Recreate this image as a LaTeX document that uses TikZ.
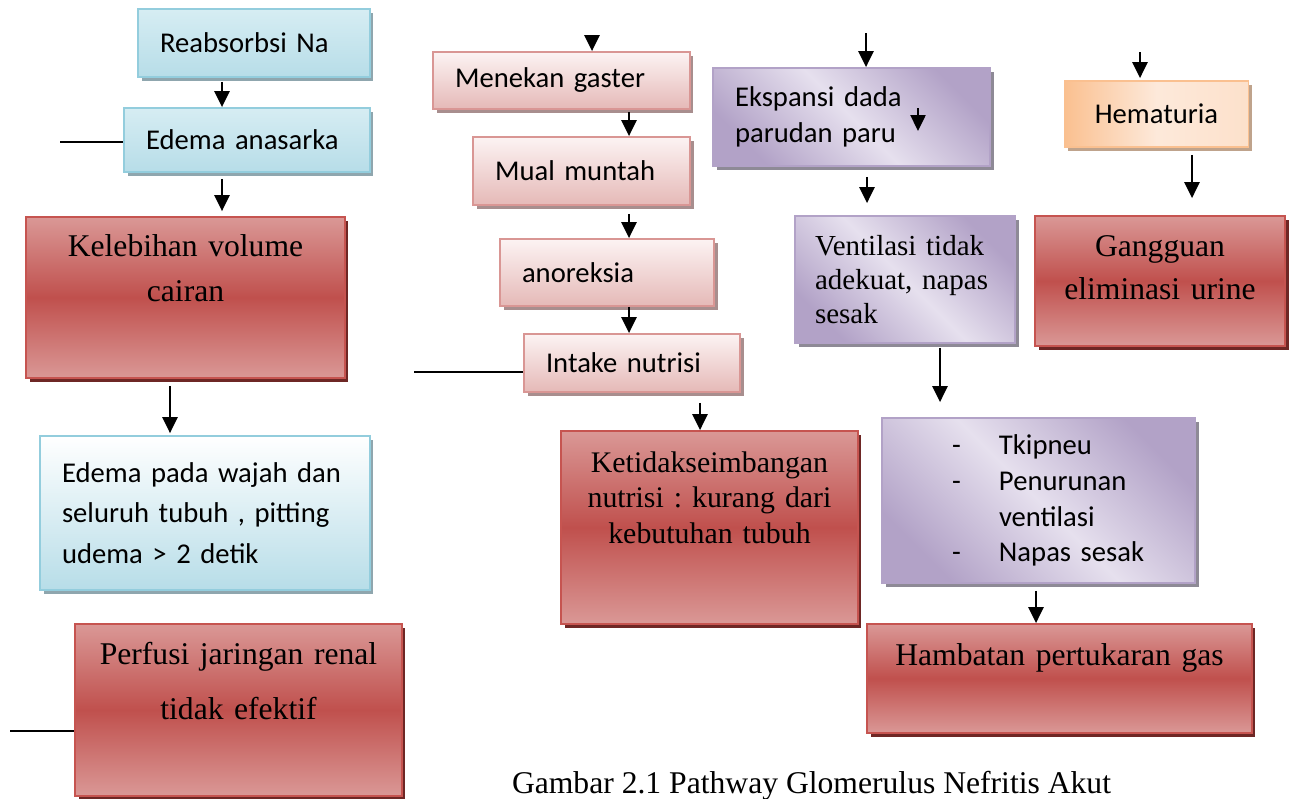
\documentclass[tikz,border=0pt]{standalone}
\usepackage{fontspec}
\setmainfont{Liberation Serif}
\newfontfamily\calibri{Carlito}
\usetikzlibrary{arrows.meta,shadows}
\frenchspacing

\definecolor{redline}{HTML}{C65450}
\definecolor{redmid}{HTML}{C0504D}
\definecolor{redlight}{HTML}{DA9896}
\definecolor{redshadow}{HTML}{6E2725}
\definecolor{blueline}{HTML}{93CDDD}
\definecolor{bluetop}{HTML}{D6EDF3}
\definecolor{bluebot}{HTML}{B7DDE8}
\definecolor{blueshadow}{HTML}{8FA6AE}
\definecolor{pinkline}{HTML}{D99694}
\definecolor{pinktop}{HTML}{FCF3F3}
\definecolor{pinkbot}{HTML}{E5B9B7}
\definecolor{pinkshadow}{HTML}{A88E8E}
\definecolor{purpdark}{HTML}{B2A2C7}
\definecolor{purplight}{HTML}{E6E0EE}
\definecolor{purpshadow}{HTML}{8E8A96}
\definecolor{orangedark}{HTML}{FAC090}
\definecolor{orangelight}{HTML}{FDE9DA}
\definecolor{orangeshadow}{HTML}{BFA38C}

\begin{document}
\begin{tikzpicture}[x=0.02cm, y=-0.02cm, >={Triangle[length=0.32cm, width=0.3cm]},
    arr/.style={->, line width=1.4pt},
    lin/.style={line width=1.1pt},
    sans/.style={font=\calibri\fontsize{16.3pt}{20.4pt}\selectfont},
    serif/.style={font=\fontsize{18pt}{26pt}\selectfont},
    box/.style={line width=1pt, inner xsep=0.44cm},
    redbox/.style={box, inner xsep=0.2cm, draw=redline, top color=redlight, bottom color=redlight, middle color=redmid,
        align=center, drop shadow={shadow xshift=2pt, shadow yshift=-2.5pt, opacity=1, fill=redshadow}},
    bluebox/.style={box, draw=blueline, top color=bluetop, bottom color=bluebot, align=left,
        drop shadow={shadow xshift=2pt, shadow yshift=-2.5pt, opacity=1, fill=blueshadow}},
    pinkbox/.style={box, draw=pinkline, top color=pinktop, bottom color=pinkbot, align=left,
        drop shadow={shadow xshift=2pt, shadow yshift=-2.5pt, opacity=1, fill=pinkshadow}},
    purpbox/.style={box, draw=purpdark, top color=purpdark, bottom color=purpdark, middle color=purplight,
        shading angle=-45, align=left,
        drop shadow={shadow xshift=2pt, shadow yshift=-2.5pt, opacity=1, fill=purpshadow}},
    orangebox/.style={box, draw=orangedark, left color=orangedark, right color=orangelight!80!orangedark,
        middle color=orangelight, align=center,
        drop shadow={shadow xshift=2pt, shadow yshift=-2.5pt, opacity=1, fill=orangeshadow}}]
    \useasboundingbox (0,0) rectangle (1294,798);

    %%%%%%%%%% left column %%%%%%%%%%
    \node [bluebox, sans, text width=3.76cm, minimum width=4.64cm, minimum height=1.36cm] (reab) at (254,43) {Reabsorbsi Na};
    \node [bluebox, sans, text width=4.04cm, minimum width=4.92cm, minimum height=1.28cm] (anasarka) at (247,140) {Edema anasarka};
    \node [redbox, serif, text width=5.88cm, minimum width=6.38cm, minimum height=3.22cm] (volume) at (185.5,297.5) {Kelebihan volume\\cairan\\[0.26cm]\mbox{}};
    \node [bluebox, top color=white, sans, font=\calibri\fontsize{16.3pt}{23.2pt}\selectfont, text width=5.72cm,
        minimum width=6.6cm, minimum height=3.08cm] (wajah) at (205,513) {Edema pada wajah dan\\seluruh tubuh , pitting\\udema > 2 detik};
    \node [redbox, serif, font=\fontsize{18pt}{31pt}\selectfont, text width=6.04cm, minimum width=6.54cm, minimum height=3.44cm] (perfusi) at (238.5,710) {Perfusi jaringan renal\\tidak efektif\\[0.08cm]\mbox{}};

    \draw [arr, shorten <=0.08cm] (reab.south -| 222,0) -- (anasarka.north -| 222,0);
    \draw [arr, shorten <=0.12cm, shorten >=0.1cm] (anasarka.south -| 222,0) -- (volume.north -| 222,0);
    \draw [arr, shorten <=0.14cm, shorten >=0.04cm] (volume.south -| 170,0) -- (wajah.north -| 170,0);
    \coordinate (l1) at (60,142);
    \draw [lin] (l1) -- (anasarka.west |- l1);
    \coordinate (l3) at (10,731);
    \draw [lin] (l3) -- (perfusi.west |- l3);

    %%%%%%%%%% middle column %%%%%%%%%%
    \node [pinkbox, sans, text width=4.26cm, minimum width=5.14cm, minimum height=1.14cm] (menekan) at (561.5,80.5) {Menekan gaster};
    \node [pinkbox, sans, text width=3.46cm, minimum width=4.34cm, minimum height=1.36cm] (mual) at (581.5,171) {Mual muntah};
    \node [pinkbox, sans, text width=3.4cm, minimum width=4.28cm, minimum height=1.34cm] (anoreksia) at (607,272.5) {anoreksia};
    \node [pinkbox, sans, text width=3.44cm, minimum width=4.32cm, minimum height=1.16cm] (intake) at (632,363) {Intake nutrisi};
    \node [redbox, serif, font=\fontsize{17pt}{20.4pt}\selectfont, text width=5.44cm, minimum width=5.94cm, minimum height=3.86cm] (nutrisi) at (709.5,527.5) {Ketidakseimbangan\\nutrisi : kurang dari\\kebutuhan tubuh\\[0.48cm]\mbox{}};

    \coordinate (t1) at (592,35);
    \draw [arr] (t1) -- (menekan.north -| t1);
    \foreach \a/\b/\s in {menekan/mual/0.04, mual/anoreksia/0.16, anoreksia/intake/0} {
        \draw [arr, shorten <=\s cm] (\a.south -| 629,0) -- (\b.north -| 629,0);
    }
    \draw [arr, shorten <=0.2cm] (intake.south -| 700,0) -- (nutrisi.north -| 700,0);
    \coordinate (l2) at (414,372);
    \draw [lin] (l2) -- (intake.west |- l2);

    %%%%%%%%%% right column %%%%%%%%%%
    \node [purpbox, sans, text width=4.66cm, minimum width=5.54cm, minimum height=1.96cm] (ekspansi) at (851.5,117) {Ekspansi dada\\parudan paru};
    \node [purpbox, serif, font=\fontsize{16.5pt}{19.3pt}\selectfont, inner xsep=0.4cm, text width=3.6cm, minimum width=4.4cm, minimum height=2.54cm] (ventilasi) at (905,279.5) {Ventilasi tidak\\adekuat, napas\\sesak};
    \node [purpbox, sans, text width=5.38cm, minimum width=6.26cm, minimum height=3.3cm] (tkip) at (1038.5,500.5)
        {\hspace*{0.96cm}\makebox[0.94cm][l]{-}Tkipneu\\
         \hspace*{0.96cm}\makebox[0.94cm][l]{-}Penurunan\\
         \hspace*{1.9cm}ventilasi\\
         \hspace*{0.96cm}\makebox[0.94cm][l]{-}Napas sesak};
    \node [redbox, serif, text width=7.2cm, minimum width=7.7cm, minimum height=2.18cm] (gas) at (1059.5,678.5) {Hambatan pertukaran gas\\[0.06cm]\mbox{}};

    \coordinate (t2) at (866,33);
    \draw [arr] (t2) -- (ekspansi.north -| t2);
    \coordinate (s1) at (918,108);
    \coordinate (s2) at (918,131);
    \draw [arr] (s1) -- (s2);
    \draw [arr, shorten <=0.2cm, shorten >=0.24cm] (ekspansi.south -| 867,0) -- (ventilasi.north -| 867,0);
    \draw [arr, shorten <=0.08cm, shorten >=0.3cm] (ventilasi.south -| 940,0) -- (tkip.north -| 940,0);
    \draw [arr, shorten <=0.14cm] (tkip.south -| 1036,0) -- (gas.north -| 1036,0);

    %%%%%%%%%% far right %%%%%%%%%%
    \node [orangebox, sans, text width=2.8cm, minimum width=3.62cm, minimum height=1.32cm] (hematuria) at (1156.5,114) {Hematuria};
    \node [redbox, serif, font=\fontsize{18pt}{24.4pt}\selectfont, text width=4.5cm, minimum width=5cm, minimum height=2.6cm] (urine) at (1160,281) {Gangguan\\eliminasi urine\\[-0.32cm]\mbox{}};

    \coordinate (t3) at (1140,52);
    \draw [arr, shorten >=0.04cm] (t3) -- (hematuria.north -| t3);
    \draw [arr, shorten <=0.14cm, shorten >=0.34cm] (hematuria.south -| 1192,0) -- (urine.north -| 1192,0);

    \node [font=\fontsize{18pt}{22pt}\selectfont, anchor=base] (caption) at (811.5,793) {Gambar 2.1 Pathway Glomerulus Nefritis Akut};
\end{tikzpicture}
\end{document}
